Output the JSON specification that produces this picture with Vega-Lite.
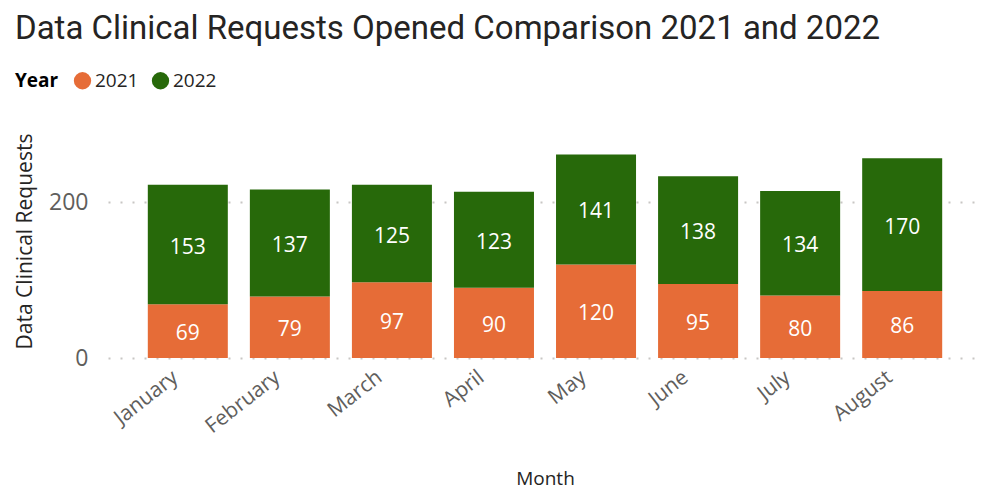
{
  "$schema": "https://vega.github.io/schema/vega-lite/v6.json",
  "autosize": {"type": "none"},
  "width": 874,
  "height": 234,
  "padding": {"left": 108, "top": 124, "right": 5, "bottom": 138},
  "background": "white",
  "title": {
    "text": "Data Clinical Requests Opened Comparison 2021 and 2022",
    "anchor": "start",
    "frame": "group",
    "dx": -93,
    "dy": -13,
    "fontSize": 33,
    "font": "Roboto",
    "fontWeight": "normal",
    "color": "#252423",
    "offset": 12
  },
  "data": {
    "values": [
      {"Month": "January", "Year": "2021", "Requests": 69},
      {"Month": "January", "Year": "2022", "Requests": 153},
      {"Month": "February", "Year": "2021", "Requests": 79},
      {"Month": "February", "Year": "2022", "Requests": 137},
      {"Month": "March", "Year": "2021", "Requests": 97},
      {"Month": "March", "Year": "2022", "Requests": 125},
      {"Month": "April", "Year": "2021", "Requests": 90},
      {"Month": "April", "Year": "2022", "Requests": 123},
      {"Month": "May", "Year": "2021", "Requests": 120},
      {"Month": "May", "Year": "2022", "Requests": 141},
      {"Month": "June", "Year": "2021", "Requests": 95},
      {"Month": "June", "Year": "2022", "Requests": 138},
      {"Month": "July", "Year": "2021", "Requests": 80},
      {"Month": "July", "Year": "2022", "Requests": 134},
      {"Month": "August", "Year": "2021", "Requests": 86},
      {"Month": "August", "Year": "2022", "Requests": 170}
    ]
  },
  "transform": [
    {"stack": "Requests", "groupby": ["Month"], "sort": [{"field": "Year", "order": "ascending"}], "as": ["y0", "y1"]},
    {"calculate": "(datum.y0 + datum.y1) / 2", "as": "ymid"}
  ],
  "encoding": {
    "x": {
      "field": "Month",
      "type": "nominal",
      "sort": ["January", "February", "March", "April", "May", "June", "July", "August"],
      "scale": {"paddingInner": 0.216, "paddingOuter": 0.39},
      "axis": {
        "title": "Month",
        "titleFont": "Open Sans",
        "titleFontSize": 19,
        "titleFontWeight": "normal",
        "titleColor": "#252423",
        "titleY": 120,
        "titleBaseline": "middle",
        "labelAngle": -38,
        "labelAlign": "right",
        "labelBaseline": "top",
        "labelOffset": -19,
        "labelFont": "Open Sans",
        "labelFontSize": 21,
        "labelColor": "#605E5C",
        "labelPadding": 8,
        "domain": false,
        "ticks": false
      }
    }
  },
  "layer": [
    {
      "mark": {"type": "bar"},
      "encoding": {
        "y": {
          "field": "y1",
          "type": "quantitative",
          "scale": {"domain": [0, 300]},
          "axis": {
            "title": "Data Clinical Requests",
            "values": [0, 200],
            "titleFont": "Open Sans",
            "titleFontSize": 21,
            "titleFontWeight": "normal",
            "titleColor": "#252423",
            "titleX": -83,
            "titleY": 117,
            "titleAngle": -90,
            "titleAlign": "center",
            "titleBaseline": "middle",
            "labelFont": "Open Sans",
            "labelFontSize": 23,
            "labelColor": "#605E5C",
            "labelPadding": 20,
            "domain": false,
            "ticks": false,
            "grid": true,
            "gridColor": "#C8C6C4",
            "gridDash": [2, 10],
            "gridWidth": 2
          }
        },
        "y2": {"field": "y0"},
        "color": {
          "field": "Year",
          "type": "nominal",
          "scale": {"domain": ["2021", "2022"], "range": ["#E66C37", "#27690A"]},
          "legend": {
            "title": "Year",
            "orient": "none",
            "legendX": -93,
            "legendY": -53,
            "direction": "horizontal",
            "titleOrient": "left",
            "titleFont": "Open Sans",
            "titleFontSize": 19,
            "titleFontWeight": "bold",
            "titleColor": "#000000",
            "titlePadding": 14,
            "labelFont": "Open Sans",
            "labelFontSize": 19,
            "labelColor": "#252423",
            "labelOffset": 3,
            "symbolType": "circle",
            "symbolSize": 300,
            "symbolStrokeWidth": 0,
            "symbolOpacity": 1,
            "columnPadding": 12
          }
        }
      }
    },
    {
      "mark": {"type": "text", "color": "white", "font": "Open Sans", "fontSize": 21, "baseline": "middle", "align": "center", "dy": 3},
      "encoding": {
        "y": {"field": "ymid", "type": "quantitative"},
        "text": {"field": "Requests", "type": "quantitative"}
      }
    }
  ],
  "config": {"view": {"stroke": null}}
}
